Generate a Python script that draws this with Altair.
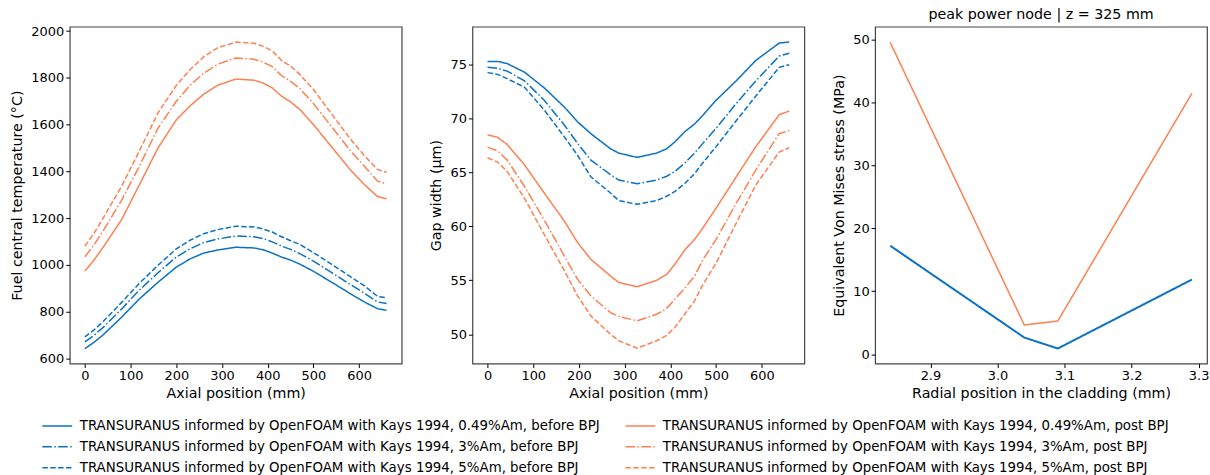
import altair as alt
import pandas as pd

# ---------------- data ----------------
series_names = [
    "TRANSURANUS informed by OpenFOAM with Kays 1994, 0.49%Am, before BPJ",
    "TRANSURANUS informed by OpenFOAM with Kays 1994, 3%Am, before BPJ",
    "TRANSURANUS informed by OpenFOAM with Kays 1994, 5%Am, before BPJ",
    "TRANSURANUS informed by OpenFOAM with Kays 1994, 0.49%Am, post BPJ",
    "TRANSURANUS informed by OpenFOAM with Kays 1994, 3%Am, post BPJ",
    "TRANSURANUS informed by OpenFOAM with Kays 1994, 5%Am, post BPJ",
]
series_colors = ["#0a72c4", "#0a72c4", "#0a72c4", "#ff7f50", "#ff7f50", "#ff7f50"]
series_dashes = [[1, 0], [9.6, 2.4, 1.5, 2.4], [5.5, 2.4], [1, 0], [9.6, 2.4, 1.5, 2.4], [5.5, 2.4]]

# Fuel central temperature (°C) vs axial position (mm)
x_temp = [0, 20, 40, 80, 120, 160, 200, 230, 260, 290, 330, 370, 390, 410, 430, 450, 470, 500, 540, 580, 610, 640, 660]
temp_b049 = [641, 668, 700, 775, 855, 925, 990, 1025, 1050, 1063, 1075, 1072, 1064, 1050, 1033, 1020, 1003, 972, 925, 877, 842, 812, 805]
temp_b3 = [670, 698, 732, 810, 893, 966, 1033, 1068, 1095, 1110, 1123, 1120, 1112, 1098, 1080, 1066, 1048, 1016, 966, 916, 880, 841, 834]
temp_b5 = [691, 721, 757, 838, 922, 998, 1068, 1105, 1133, 1150, 1165, 1162, 1153, 1140, 1120, 1103, 1087, 1052, 1002, 950, 912, 865, 858]
temp_p049 = [973, 1020, 1075, 1192, 1345, 1500, 1620, 1680, 1730, 1768, 1795, 1790, 1778, 1757, 1722, 1697, 1665, 1600, 1504, 1408, 1346, 1292, 1282]
temp_p3 = [1034, 1085, 1145, 1275, 1425, 1585, 1700, 1768, 1820, 1858, 1885, 1880, 1867, 1848, 1810, 1785, 1755, 1690, 1590, 1490, 1425, 1358, 1346]
temp_p5 = [1080, 1135, 1200, 1335, 1490, 1650, 1768, 1835, 1890, 1928, 1953, 1948, 1935, 1915, 1875, 1850, 1815, 1750, 1645, 1540, 1470, 1408, 1396]

# Gap width (µm) vs axial position (mm)
x_gap = [0, 22, 43, 81, 124, 168, 197, 226, 269, 287, 327, 370, 392, 410, 432, 453, 471, 500, 544, 587, 638, 660]
gap_b049 = [75.3, 75.3, 75.1, 74.3, 72.85, 71.07, 69.7, 68.6, 67.2, 66.8, 66.4, 66.8, 67.2, 67.85, 68.8, 69.5, 70.3, 71.7, 73.5, 75.4, 77.0, 77.1]
gap_b3 = [74.75, 74.66, 74.4, 73.5, 71.7, 69.4, 67.7, 66.15, 64.8, 64.3, 63.95, 64.3, 64.65, 65.1, 65.9, 66.8, 67.7, 69.1, 71.4, 73.5, 75.8, 76.05]
gap_b5 = [74.26, 74.1, 73.7, 72.9, 70.8, 68.3, 66.6, 64.6, 63.1, 62.4, 62.05, 62.4, 62.8, 63.25, 64.0, 64.9, 65.9, 67.4, 69.8, 72.1, 74.75, 75.0]
gap_p049 = [68.5, 68.27, 67.6, 65.7, 63.1, 60.5, 58.5, 56.95, 55.4, 54.8, 54.4, 55.0, 55.55, 56.5, 57.85, 58.8, 59.85, 61.7, 64.6, 67.4, 70.36, 70.7]
gap_p3 = [67.35, 67.0, 66.15, 63.7, 60.6, 57.25, 55.1, 53.56, 52.0, 51.65, 51.25, 51.85, 52.4, 53.25, 54.3, 55.4, 56.9, 58.8, 62.15, 65.25, 68.6, 68.9]
gap_p5 = [66.37, 65.97, 65.1, 62.6, 59.25, 55.9, 53.56, 51.7, 50.0, 49.4, 48.7, 49.4, 49.9, 50.65, 51.9, 53.1, 54.6, 56.6, 60.3, 63.85, 66.9, 67.3]

# Equivalent Von Mises stress (MPa) vs radial position (mm)
x_rad = [2.84, 3.04, 3.09, 3.29]
stress_before = [17.25, 2.64, 0.9, 11.87]
stress_post = [49.6, 4.64, 5.27, 41.5]

# ---------------- tables ----------------
def table(x, ys):
    rows = []
    for name, yv in ys:
        for xi, yi in zip(x, yv):
            rows.append({"x": xi, "y": yi, "series": name})
    return pd.DataFrame(rows)

df_temp = table(x_temp, [(series_names[0], temp_b049), (series_names[1], temp_b3),
                         (series_names[2], temp_b5), (series_names[3], temp_p049),
                         (series_names[4], temp_p3), (series_names[5], temp_p5)])
df_gap = table(x_gap, [(series_names[0], gap_b049), (series_names[1], gap_b3),
                       (series_names[2], gap_b5), (series_names[3], gap_p049),
                       (series_names[4], gap_p3), (series_names[5], gap_p5)])
df_before = table(x_rad, [(series_names[0], stress_before)])
df_post = table(x_rad, [(series_names[3], stress_post)])

FONT = "DejaVu Sans"
W, H = 333, 338
TICK_FS = 13
TITLE_FS = 14.3

legend = alt.Legend(
    orient="none", legendX=-21, legendY=392, columns=2, title=None,
    symbolType="M-2,0H2", symbolSize=225, symbolStrokeWidth=1.5,
    labelFontSize=13.4, labelFont=FONT, labelLimit=0, labelColor="#000",
    rowPadding=6, columnPadding=22, labelOffset=14,
)
color = alt.Color("series:N", scale=alt.Scale(domain=series_names, range=series_colors), legend=legend)
dash = alt.StrokeDash("series:N", scale=alt.Scale(domain=series_names, range=series_dashes), legend=legend)

def xax(title, values, fmt):
    return alt.Axis(title=title, values=values, format=fmt, grid=False, domain=False, tickSize=4,
                    labelPadding=2, titlePadding=4, labelFontSize=TICK_FS, titleFontSize=TITLE_FS,
                    labelFont=FONT, titleFont=FONT, titleFontWeight="normal",
                    labelColor="#000", titleColor="#000", tickColor="#000")

def yax(title, values):
    return alt.Axis(title=title, values=values, format="d", grid=False, domain=False, tickSize=4,
                    labelPadding=2, titlePadding=6, labelFontSize=TICK_FS, titleFontSize=TITLE_FS,
                    labelFont=FONT, titleFont=FONT, titleFontWeight="normal",
                    labelColor="#000", titleColor="#000", tickColor="#000")

p1 = alt.Chart(df_temp).mark_line(strokeWidth=1.5).encode(
    x=alt.X("x:Q", scale=alt.Scale(domain=[-33, 693], nice=False, zero=False),
            axis=xax("Axial position (mm)", [0, 100, 200, 300, 400, 500, 600], "d")),
    y=alt.Y("y:Q", scale=alt.Scale(domain=[577, 2019], nice=False, zero=False),
            axis=yax("Fuel central temperature (°C)", [600, 800, 1000, 1200, 1400, 1600, 1800, 2000])),
    color=color, strokeDash=dash,
).properties(width=W, height=H)

p2 = alt.Chart(df_gap).mark_line(strokeWidth=1.5).encode(
    x=alt.X("x:Q", scale=alt.Scale(domain=[-33, 693], nice=False, zero=False),
            axis=xax("Axial position (mm)", [0, 100, 200, 300, 400, 500, 600], "d")),
    y=alt.Y("y:Q", scale=alt.Scale(domain=[47.28, 78.52], nice=False, zero=False),
            axis=yax("Gap width (μm)", [50, 55, 60, 65, 70, 75])),
    color=color, strokeDash=dash,
).properties(width=W, height=H)

xr = alt.X("x:Q", scale=alt.Scale(domain=[2.8175, 3.3125], nice=False, zero=False),
           axis=xax("Radial position in the cladding (mm)", [2.9, 3.0, 3.1, 3.2, 3.3], ".1f"))
yr = alt.Y("y:Q", scale=alt.Scale(domain=[-1.5, 52.1], nice=False, zero=False),
           axis=yax("Equivalent Von Mises stress (MPa)", [0, 10, 20, 30, 40, 50]))
p3a = alt.Chart(df_before).mark_line(strokeWidth=2).encode(x=xr, y=yr, color=color, strokeDash=dash)
p3b = alt.Chart(df_post).mark_line(strokeWidth=1.5).encode(x=xr, y=yr, color=color, strokeDash=dash)
p3 = alt.layer(p3a, p3b).properties(
    width=W, height=H,
    title=alt.Title("peak power node | z = 325 mm", fontSize=TITLE_FS, font=FONT,
                    fontWeight="normal", color="#000", offset=4),
)

chart = alt.hconcat(p1, p2, p3, spacing=26).resolve_scale(
    color="shared", strokeDash="shared"
).properties(
    padding={"left": 10, "top": 7, "right": 0, "bottom": 0},
    background="white",
).configure_view(stroke="#444", strokeWidth=1.2)

chart.save("out.html", embed_options={"renderer": "svg", "actions": False})
